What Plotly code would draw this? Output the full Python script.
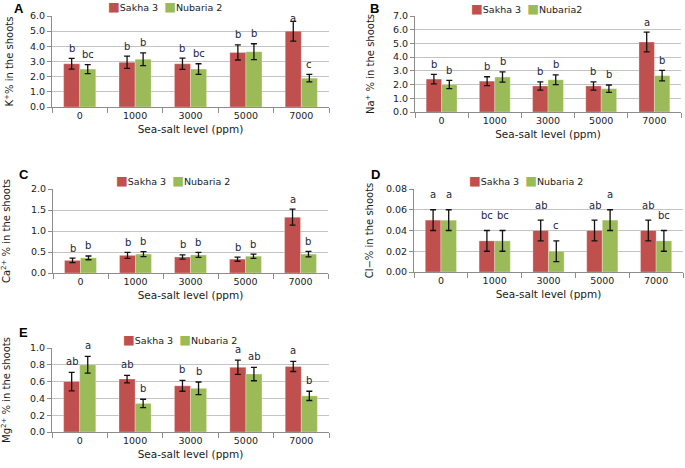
import plotly.graph_objects as go

W, H = 685, 468

categories = ["0", "1000", "3000", "5000", "7000"]
series_names = ["Sakha 3", "Nubaria 2"]

# Panel A: K+
k_sakha = [2.85, 2.95, 2.85, 3.60, 5.00]
k_sakha_err = [0.35, 0.40, 0.37, 0.50, 0.65]
k_nubaria = [2.50, 3.15, 2.50, 3.65, 1.90]
k_nubaria_err = [0.30, 0.42, 0.35, 0.52, 0.25]
k_letters_sakha = ["b", "b", "b", "b", "a"]
k_letters_nubaria = ["bc", "b", "bc", "b", "c"]

# Panel B: Na+
na_sakha = [2.40, 2.25, 1.90, 1.90, 5.10]
na_sakha_err = [0.35, 0.32, 0.30, 0.30, 0.72]
na_nubaria = [2.00, 2.55, 2.35, 1.70, 2.65]
na_nubaria_err = [0.30, 0.37, 0.35, 0.27, 0.38]
na_letters_sakha = ["b", "b", "b", "b", "a"]
na_letters_nubaria = ["b", "b", "b", "b", "b"]

# Panel C: Ca2+
ca_sakha = [0.30, 0.42, 0.38, 0.33, 1.33]
ca_sakha_err = [0.055, 0.07, 0.05, 0.05, 0.19]
ca_nubaria = [0.36, 0.45, 0.43, 0.40, 0.45]
ca_nubaria_err = [0.045, 0.06, 0.06, 0.05, 0.065]
ca_letters_sakha = ["b", "b", "b", "b", "a"]
ca_letters_nubaria = ["b", "b", "b", "b", "b"]

# Panel D: Cl-
cl_sakha = [0.05, 0.03, 0.04, 0.04, 0.04]
cl_sakha_err = [0.01, 0.01, 0.01, 0.01, 0.01]
cl_nubaria = [0.05, 0.03, 0.02, 0.05, 0.03]
cl_nubaria_err = [0.01, 0.01, 0.01, 0.01, 0.01]
cl_letters_sakha = ["a", "bc", "ab", "ab", "ab"]
cl_letters_nubaria = ["a", "bc", "c", "a", "bc"]

# Panel E: Mg2+
mg_sakha = [0.60, 0.63, 0.55, 0.77, 0.78]
mg_sakha_err = [0.11, 0.045, 0.065, 0.085, 0.06]
mg_nubaria = [0.80, 0.34, 0.52, 0.69, 0.43]
mg_nubaria_err = [0.10, 0.05, 0.075, 0.08, 0.055]
mg_letters_sakha = ["ab", "ab", "b", "a", "a"]
mg_letters_nubaria = ["a", "b", "b", "ab", "b"]

RED = "#C0504D"
GREEN = "#9BBB59"
FONT = "Verdana, DejaVu Sans, sans-serif"
TXT = "#1a1a1a"
LETTER = "#1c1f3a"
BARGAP = 0.42

panels = [
    dict(tag="A", s=k_sakha, se=k_sakha_err, n=k_nubaria, ne=k_nubaria_err,
         ls=k_letters_sakha, ln=k_letters_nubaria, names=["Sakha 3", "Nubaria 2"],
         ytitle="K<sup>+</sup>% in the shoots", yrange=[0, 6], dtick=1, fmt=".1f",
         box=(52, 329, 16, 107), leg=(106, 7), lab=(12, 8), shift=10, standoff=14),
    dict(tag="B", s=na_sakha, se=na_sakha_err, n=na_nubaria, ne=na_nubaria_err,
         ls=na_letters_sakha, ln=na_letters_nubaria, names=["Sakha 3", "Nubaria2"],
         ytitle="Na<sup>+</sup> % in the shoots", yrange=[0, 7], dtick=1, fmt=".1f",
         box=(415, 681, 16, 112), leg=(469, 8), lab=(368, 8), shift=10, standoff=16),
    dict(tag="C", s=ca_sakha, se=ca_sakha_err, n=ca_nubaria, ne=ca_nubaria_err,
         ls=ca_letters_sakha, ln=ca_letters_nubaria, names=["Sakha 3", "Nubaria 2"],
         ytitle="Ca<sup>2+</sup> % in the shoots", yrange=[0, 2], dtick=0.5, fmt=".1f",
         box=(53, 328, 189, 273), leg=(114, 181), lab=(17, 174), shift=10, standoff=18),
    dict(tag="D", s=cl_sakha, se=cl_sakha_err, n=cl_nubaria, ne=cl_nubaria_err,
         ls=cl_letters_sakha, ln=cl_letters_nubaria, names=["Sakha 3", "Nubaria 2"],
         ytitle="Cl\u2212% in the shoots", yrange=[0, 0.08], dtick=0.02, fmt=".2f",
         box=(414, 683, 189, 272), leg=(467, 181), lab=(369, 174), shift=15, standoff=10),
    dict(tag="E", s=mg_sakha, se=mg_sakha_err, n=mg_nubaria, ne=mg_nubaria_err,
         ls=mg_letters_sakha, ln=mg_letters_nubaria, names=["Sakha 3", "Nubaria 2"],
         ytitle="Mg<sup>2+</sup> % in the shoots", yrange=[0, 1.0], dtick=0.2, fmt=".1f",
         box=(52, 329, 348, 432), leg=(121, 339), lab=(17, 332), shift=11, standoff=18),
]

# individual letter shift overrides (panel, series, index) -> px
shift_override = {("A", 0, 4): 3}

fig = go.Figure()
annotations = []
layout_axes = {}

for k, p in enumerate(panels):
    i = k + 1
    xa = "x" if i == 1 else f"x{i}"
    ya = "y" if i == 1 else f"y{i}"
    xl = "xaxis" if i == 1 else f"xaxis{i}"
    yl = "yaxis" if i == 1 else f"yaxis{i}"
    x0, x1, yt, yb = p["box"]

    for si, (vals, errs, col, nm) in enumerate([(p["s"], p["se"], RED, p["names"][0]),
                                                (p["n"], p["ne"], GREEN, p["names"][1])]):
        fig.add_trace(go.Bar(
            x=categories, y=vals, name=nm, xaxis=xa, yaxis=ya,
            marker=dict(color=col, line=dict(color="rgba(255,255,255,0.35)", width=0.8)),
            error_y=dict(type="data", array=errs, color="#111111", thickness=1.3, width=3),
            showlegend=False,
        ))
        letters = p["ls"] if si == 0 else p["ln"]
        off = (1 - BARGAP) / 4 * (-1 if si == 0 else 1)
        for j, (v, e, L) in enumerate(zip(vals, errs, letters)):
            annotations.append(dict(
                x=j + off, y=v + e, xref=xa, yref=ya, text=L, showarrow=False,
                yanchor="middle", xanchor="center",
                yshift=shift_override.get((p["tag"], si, j), p["shift"]),
                font=dict(family=FONT, size=10, color=LETTER)))

    layout_axes[xl] = dict(
        domain=[x0 / W, x1 / W], anchor=ya, type="category", automargin=False,
        showline=True, linecolor="#8c8c8c", linewidth=1,
        ticks="outside", tickson="boundaries", ticklen=5, tickcolor="#8c8c8c",
        showgrid=False, zeroline=False,
        tickfont=dict(family=FONT, size=9.5, color=TXT),
        title=dict(text="Sea-salt level (ppm)", standoff=5,
                   font=dict(family=FONT, size=10.5, color=TXT)),
    )
    layout_axes[yl] = dict(
        domain=[1 - yb / H, 1 - yt / H], anchor=xa, range=p["yrange"], automargin=False,
        dtick=p["dtick"], tickformat=p["fmt"],
        showline=True, linecolor="#8c8c8c", linewidth=1,
        ticks="outside", ticklen=4, tickcolor="#8c8c8c",
        showgrid=True, gridcolor="#c4c4c4", gridwidth=1, zeroline=False,
        tickfont=dict(family=FONT, size=9.5, color=TXT),
        title=dict(text=p["ytitle"], standoff=p["standoff"],
                   font=dict(family=FONT, size=10, color=TXT)),
    )

    lx, ly = p["leg"]
    annotations.append(dict(
        x=lx / W, y=1 - ly / H, xref="paper", yref="paper", xanchor="left", yanchor="middle",
        showarrow=False,
        text=(f"<span style='color:{RED};font-size:12.5px'>\u25A0</span>{p['names'][0]}  "
              f"<span style='color:{GREEN};font-size:12.5px'>\u25A0</span>{p['names'][1]}"),
        font=dict(family=FONT, size=9.5, color=TXT)))
    bx, by = p["lab"]
    annotations.append(dict(
        x=bx / W, y=1 - by / H, xref="paper", yref="paper", xanchor="left", yanchor="middle",
        showarrow=False, text=f"<b>{p['tag']}</b>",
        font=dict(family="Arial, Liberation Sans, sans-serif", size=13, color="#000000")))

fig.update_layout(
    template="none",
    width=W, height=H, margin=dict(l=0, r=0, t=0, b=0, autoexpand=False),
    paper_bgcolor="white", plot_bgcolor="white",
    barmode="group", bargap=BARGAP, bargroupgap=0,
    annotations=annotations, showlegend=False,
    **layout_axes,
)

fig.write_html(
    "out.html",
    config={"displayModeBar": False},
    post_script="document.body.style.margin='0';document.body.style.padding='0';document.body.style.overflow='hidden';",
)
